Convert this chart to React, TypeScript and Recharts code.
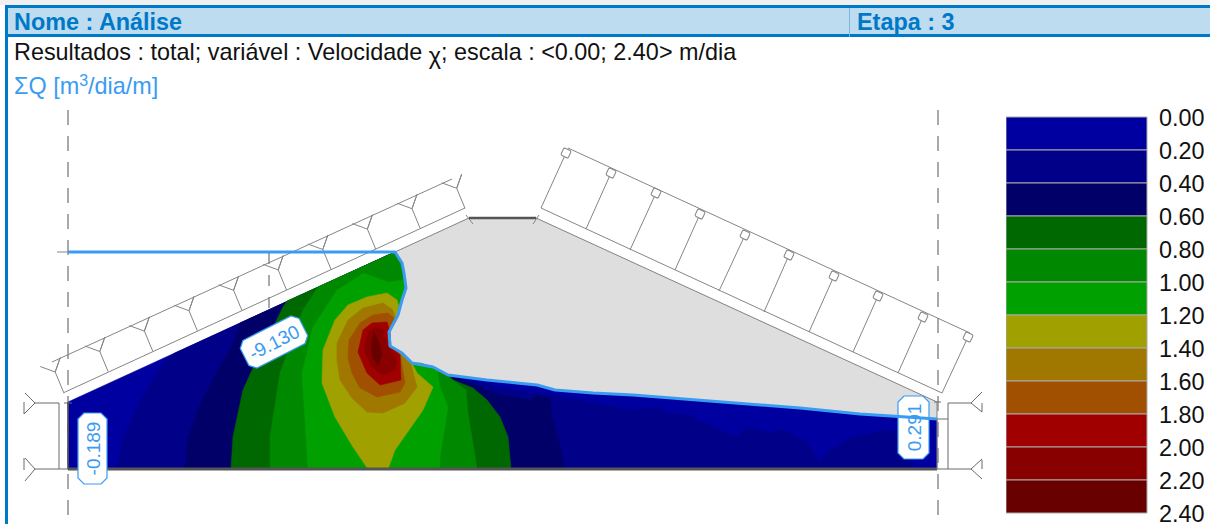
import React from "react";
import { ScatterChart, Scatter, XAxis, YAxis, BarChart, Bar } from "recharts";

type P = [number, number];
const FONT = "'Liberation Sans', Arial, sans-serif";
const BLUE = "#3a9bf2";
const LINE = "#858585";
const TOE = "#6a6a6a";
const DARK = "#555555";

const bandColors = ["#0000a0", "#000088", "#000068", "#006800", "#008800", "#00a000", "#a0a000", "#a07800", "#a05000", "#a00000", "#880000", "#680000"];
const scaleTicks = [0, 0.2, 0.4, 0.6, 0.8, 1.0, 1.2, 1.4, 1.6, 1.8, 2.0, 2.2, 2.4];
const bandWidths = [0.2, 0.2, 0.2, 0.2, 0.2, 0.2, 0.2, 0.2, 0.2, 0.2, 0.2, 0.2];

const phreatic: P[] = [[395, 252], [402, 263], [404, 273], [406, 288], [402, 300], [398, 315], [389, 332], [390, 346], [402, 353], [412, 363], [433, 367], [448, 375], [487, 380], [517, 383], [537, 385], [555, 390], [593, 393], [633, 395], [800, 408], [860, 414], [937, 419]];

const dryZone: P[] = [[395, 252], [469, 218], [536, 218], [937, 402], [937, 419], ...phreatic.slice().reverse()];

const band0: P[] = [[68, 402], ...phreatic, [937, 469], [68, 469]];
const band1: P[] = [[117, 469], [123, 438], [140, 402], [157, 373], [168, 358], [175, 353], ...phreatic.slice(0, 12), [500, 388], [533, 393], [550, 395], [566, 398], [633, 410], [660, 408], [667, 413], [687, 415], [713, 427], [737, 437], [745, 428], [760, 430], [770, 433], [783, 429], [793, 435], [807, 442], [820, 462], [830, 450], [853, 437], [887, 430], [897, 432], [905, 445], [913, 469]];
const band2: P[] = [[185, 469], [188, 438], [200, 405], [217, 372], [233, 345], [240, 323], ...phreatic.slice(0, 12), [500, 395], [530, 400], [537, 395], [550, 398], [552, 417], [562, 453], [563, 469]];
const band3: P[] = [[231, 469], [233, 437], [243, 390], [253, 368], [283, 307], [287, 301], ...phreatic.slice(0, 12), [453, 380], [473, 388], [487, 400], [500, 417], [508, 437], [511, 469]];
const band4: P[] = [[270, 469], [270, 437], [280, 373], [303, 310], [318, 287], ...phreatic.slice(0, 11), [450, 378], [466, 390], [468, 413], [477, 469]];
const band5: P[] = [[308, 469], [302, 373], [313, 327], [337, 290], [358, 277], [363, 273], [388, 282], [403, 280], ...phreatic.slice(3, 10), [420, 363], [437, 368], [440, 387], [448, 407], [440, 457], [440, 469]];
const band6: P[] = [[368, 469], [353, 447], [335, 417], [322, 383], [323, 350], [335, 320], [348, 305], [367, 297], [387, 293], [397, 300], [399, 308], ...phreatic.slice(5, 10), [417, 373], [433, 387], [423, 410], [395, 450], [388, 469]];
const band7: P[] = [[337, 360], [337, 343], [348, 320], [363, 308], [383, 303], [393, 310], [396, 320], [389, 332], [390, 346], [402, 353], [410, 361], [417, 387], [405, 403], [383, 413], [367, 412], [352, 398], [340, 380]];
const band8: P[] = [[348, 358], [349, 340], [360, 323], [373, 315], [388, 313], [394, 318], [389, 332], [390, 346], [400, 353], [405, 383], [400, 392], [377, 397], [360, 388], [352, 373]];
const band9: P[] = [[358, 352], [363, 330], [372, 323], [387, 322], [390, 332], [391, 347], [400, 355], [401, 380], [380, 385], [367, 373]];
const band10: P[] = [[364, 350], [368, 333], [375, 327], [383, 330], [387, 345], [397, 358], [395, 370], [383, 375], [372, 367]];
const band11: P[] = [[371, 347], [374, 332], [379, 343], [382, 355], [378, 365], [373, 358]];
const bands = [band0, band1, band2, band3, band4, band5, band6, band7, band8, band9, band10, band11];

const riprapJoints: P[] = [[456.7, 188.3], [412, 208.7], [367.4, 229.1], [322.8, 249.5], [278.2, 269.9], [233.6, 290.3], [189, 310.7], [144.4, 331.1], [99.8, 351.5], [55.2, 372]];
const riprapOuter: P[] = [[52, 362], [452, 179]];
const riprapInner: P[] = [[63, 393], [465, 208]];

const rightOuter: P[] = [[568, 148], [970, 333]];
const rightInner: P[] = [[541, 208], [942, 393]];
const rightFeet: P[] = [[541, 208], [586, 229], [630, 250], [675, 270], [719, 291], [764, 312], [809, 332], [853, 352], [898, 373], [942, 393]];
const rightHeads: P[] = [[566, 153], [611, 173], [656, 193], [700, 214], [745, 235], [789, 255], [834, 276], [878, 296], [923, 317], [968, 337]];

const leftToe: P[][] = [
  [[59, 403], [35, 403], [25, 393]],
  [[35, 403], [24, 414], [24, 402]],
  [[68, 469], [35, 469], [25, 458]],
  [[35, 469], [25, 481]],
  [[24, 458], [24, 470]],
  [[59, 403], [59, 469]],
  [[64, 403], [72, 403]],
];
const rightToe: P[][] = [
  [[937, 469], [971, 469], [982, 459]],
  [[971, 469], [982, 479]],
  [[982, 460], [982, 469]],
  [[948, 469], [948, 403], [971, 403], [982, 392]],
  [[971, 403], [982, 412], [982, 403]],
  [[937, 419], [948, 419]],
  [[934, 402], [941, 402]],
];
const crestTicks: P[][] = [[[466, 215], [473, 224]], [[539, 215], [533, 224]]];

const dashedGuides: P[][] = [
  [[68, 110], [68, 520]],
  [[938, 110], [938, 520]],
];
const shortGuide: P[] = [[269, 253], [269, 310]];

const flowLabels = [
  { x: 92.5, y: 448.5, text: "-0.189", angle: -90, w: 71, h: 29 },
  { x: 913.5, y: 427.5, text: "0.291", angle: -90, w: 63, h: 31 },
  { x: 274, y: 342, text: "-9.130", angle: -27, w: 66, h: 31 },
];

const pts = (a: P[]) => a.map(([x, y]) => ({ x, y }));
const Nothing = () => <g />;

const poly = (key: string, points: P[], fill: string) => (
  <Scatter key={key} data={pts([...points, points[0]])} isAnimationActive={false} shape={Nothing} line={{ fill, stroke: fill, strokeWidth: 0.6 }} />
);
const wire = (key: string, points: P[], stroke: string, strokeWidth = 1, dash?: string) => (
  <Scatter key={key} data={pts(points)} isAnimationActive={false} shape={Nothing} line={{ fill: "none", stroke, strokeWidth, strokeDasharray: dash, strokeLinejoin: "round" }} />
);

const Marker = (props: any) => (
  <rect x={props.cx - 4} y={props.cy - 4} width={8} height={8} rx={1.5} fill="#fff" stroke={LINE} strokeWidth={1} transform={`rotate(25 ${props.cx} ${props.cy})`} />
);

const flowLabel = (l: (typeof flowLabels)[number]) => {
  const Shape = (props: any) => {
    const w = l.w / 2, h = l.h / 2, c = 6;
    const d = `M${-w + c},${-h}L${w - c},${-h}L${w},${-h + c}L${w},${h - c}L${w - c},${h}L${-w + c},${h}L${-w},${h - c}L${-w},${-h + c}Z`;
    return (
      <g transform={`translate(${props.cx} ${props.cy}) rotate(${l.angle})`}>
        <path d={d} fill="#fff" stroke={BLUE} strokeWidth={1.2} />
        <text x={0} y={7} textAnchor="middle" fontFamily={FONT} fontSize={19} fill={BLUE}>{l.text}</text>
      </g>
    );
  };
  return <Scatter key={l.text} data={[{ x: l.x, y: l.y }]} isAnimationActive={false} shape={Shape} />;
};

const ScaleTick = (props: any) => (
  <text x={props.x} y={props.y + 8.5} fontFamily={FONT} fontSize={23.4} fill="#111">
    {Number(props.payload.value).toFixed(2)}
  </text>
);

const legendRow: Record<string, number | string> = { name: "escala" };
bandWidths.forEach((v, i) => { legendRow[`b${i}`] = v; });

const textBase: React.CSSProperties = { position: "absolute", fontFamily: FONT, whiteSpace: "nowrap", lineHeight: 1 };

export default function App() {
  return (
    <div style={{ position: "absolute", left: 0, top: 0, width: 1210, height: 524, overflow: "hidden", background: "#fff" }}>
      <div style={{ position: "absolute", left: 0, top: 0, width: 1210, height: 5, background: "#f0f0f0" }} />
      <div style={{ position: "absolute", left: 5, top: 5, width: 1205, height: 32, boxSizing: "border-box", background: "#bddcf0", borderTop: "3px solid #0078c8", borderBottom: "3px solid #0078c8" }} />
      <div style={{ position: "absolute", left: 5, top: 5, width: 3, height: 519, background: "#0078c8" }} />
      <div style={{ position: "absolute", left: 849, top: 8, width: 1, height: 29, background: "#7db8e4" }} />
      <div style={{ ...textBase, left: 14, top: 11, fontSize: 23.4, fontWeight: 700, color: "#0078c8" }}>Nome : Análise</div>
      <div style={{ ...textBase, left: 857, top: 11, fontSize: 23.4, fontWeight: 700, color: "#0078c8" }}>Etapa : 3</div>
      <div style={{ ...textBase, left: 14, top: 41, fontSize: 23.4, color: "#111" }}>
        Resultados : total; variável : Velocidade <span style={{ position: "relative", top: 4 }}>χ</span>; escala : &lt;0.00; 2.40&gt; m/dia
      </div>
      <div style={{ ...textBase, left: 14, top: 75, fontSize: 23.4, color: BLUE }}>
        ΣQ [m<span style={{ fontSize: 16, position: "relative", top: -8 }}>3</span>/dia/m]
      </div>

      <div style={{ position: "absolute", left: 0, top: 0 }}>
        <ScatterChart width={1210} height={524} margin={{ top: 0, right: 0, bottom: 0, left: 0 }}>
          <XAxis type="number" dataKey="x" domain={[0, 1210]} hide allowDataOverflow />
          <YAxis type="number" dataKey="y" domain={[0, 524]} reversed hide allowDataOverflow />
          {poly("dry", dryZone, "#dedede")}
          {bands.map((b, i) => poly(`band${i}`, b, bandColors[i]))}
          {dashedGuides.map((g, i) => wire(`guide${i}`, g, DARK, 1, "15 11"))}
          {wire("shortGuide", shortGuide, DARK, 1, "11 11")}
          {wire("outerL", riprapOuter, LINE)}
          {wire("innerL", riprapInner, LINE)}
          {riprapJoints.map(([x, y], i) =>
            wire(`joint${i}`, [[x - 15, y - 5.5], [x, y], [x + 5, y - 14.3], [x, y], [x + 8.3, y + 20]], LINE)
          )}
          {wire("outerR", rightOuter, LINE)}
          {wire("innerR", rightInner, LINE)}
          {rightFeet.map((f, i) => wire(`rib${i}`, [f, rightHeads[i]], LINE))}
          <Scatter data={pts(rightHeads)} isAnimationActive={false} shape={Marker} />
          {leftToe.map((s, i) => wire(`lt${i}`, s, TOE))}
          {rightToe.map((s, i) => wire(`rt${i}`, s, TOE))}
          {crestTicks.map((s, i) => wire(`ct${i}`, s, LINE))}
          {wire("slopeDryL", [[395, 252], [469, 218]], LINE)}
          {wire("slopeDryR", [[536, 218], [937, 402]], LINE)}
          {wire("crest", [[469, 218], [536, 218]], DARK, 2.5)}
          {wire("base", [[68, 469], [937, 469]], DARK, 3)}
          {wire("leftFace", [[68, 402], [68, 469]], DARK, 1.5)}
          {wire("rightFace", [[937, 402], [937, 469]], LINE, 1)}
          {wire("stubL", [[57, 252], [68, 252]], LINE)}
          {flowLabels.map(flowLabel)}
          {wire("phreatic", [[68, 252], ...phreatic], BLUE, 3)}
        </ScatterChart>
      </div>

      <div style={{ position: "absolute", left: 1006, top: 100 }}>
        <BarChart width={204} height={424} data={[legendRow]} layout="horizontal" barCategoryGap={0} margin={{ top: 17, right: 0, bottom: 11, left: 0 }}>
          <XAxis dataKey="name" hide />
          <YAxis orientation="right" type="number" domain={[0, 2.4]} reversed ticks={scaleTicks} interval={0} width={63} axisLine={false} tickLine={false} tickMargin={6} tick={ScaleTick} />
          {bandWidths.map((_, i) => (
            <Bar key={i} dataKey={`b${i}`} stackId="s" fill={bandColors[i]} stroke="#aaaaaa" strokeWidth={1} isAnimationActive={false} />
          ))}
        </BarChart>
      </div>
    </div>
  );
}
